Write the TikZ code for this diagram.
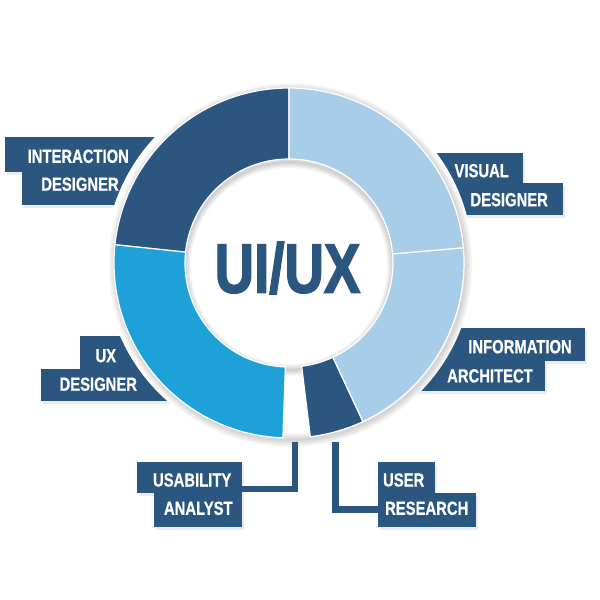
\documentclass[tikz,border=0pt]{standalone}
\usepackage{fontspec}
\usepackage{tikz}
\usetikzlibrary{shadows}
\newfontfamily\tagfont[FakeStretch=0.78, FakeBold=0.6]{Liberation Sans Bold}
\newfontfamily\titlefont[FakeStretch=0.78, FakeBold=2]{Liberation Sans Bold}
\definecolor{navy}{RGB}{42,86,128}
\definecolor{cyanseg}{RGB}{29,161,216}
\definecolor{sky}{RGB}{168,205,232}

\begin{document}
\begin{tikzpicture}[x=1pt, y=-1pt, line join=miter]
\tikzstyle{tag}=[fill=navy, inner sep=0pt, drop shadow={shadow xshift=2pt, shadow yshift=-3pt, opacity=0.15}]
\tikzstyle{tagtext}=[text=white, font=\tagfont\fontsize{19}{19}\selectfont, inner sep=0pt]
\tikzstyle{link}=[draw=navy, line width=6.5pt]
\tikzstyle{title}=[text=navy, font=\titlefont\fontsize{70}{70}\selectfont, inner sep=0pt]
\useasboundingbox (0,0) rectangle (600,600);

% side labels, partly under the ring
\node[tag, minimum width=155, minimum height=34.4, label={[tagtext, xshift=-4.2pt, yshift=-1.8pt]center:INTERACTION}] (ia1) at (82.5,154.5) {};
\node[tag, minimum width=123.3, minimum height=33.3, label={[tagtext, xshift=-3.35pt, yshift=4.15pt]center:DESIGNER}] (ia2) at (83.35,188.35) {};
\node[tag, minimum width=93.3, minimum height=30, label={[tagtext, xshift=5.05pt, yshift=-3pt]center:VISUAL}] (vd1) at (476.65,167.7) {};
\node[tag, minimum width=113.3, minimum height=32.3, label={[tagtext, xshift=2.55pt, yshift=-0.85pt]center:DESIGNER}] (vd2) at (506.65,198.85) {};
\node[tag, minimum width=62, minimum height=33.3, label={[tagtext, xshift=-5.2pt, yshift=-3.15pt]center:UX}] (ux1) at (111,352.65) {};
\node[tag, minimum width=129.3, minimum height=31.7, label={[tagtext, xshift=-7.05pt, yshift=0.95pt]center:DESIGNER}] (ux2) at (105.35,385.15) {};
\node[tag, minimum width=145, minimum height=32.4, label={[tagtext, xshift=7.5pt, yshift=-2.2pt]center:INFORMATION}] (in1) at (512.5,344.5) {};
\node[tag, minimum width=128, minimum height=30.3, label={[tagtext, xshift=9pt]center:ARCHITECT}] (in2) at (481,375.85) {};

% ring
\begin{scope}[shift={(289,263)}, y=1pt]
\fill[white] (0,0) circle (184);
\foreach \w in {2,4,...,14}
  \draw[black, opacity=0.022, line width=\w pt] (1.5,-2) circle (175);
\foreach \w in {2,4,...,12}
  \draw[black, opacity=0.03, line width=\w pt] (0,-3) circle (104);
\foreach \a/\b/\c in {90/174/navy, 174/268/cyanseg, 277/295/navy, 295/365/sky, 5/90/sky}
  \filldraw[fill=\c, draw=white, line width=1.2pt] (\a:175) arc (\a:\b:175) -- (\b:104) arc (\b:\a:104) -- cycle;
\node[title] (uiux) at (-1.5,-5) {UI/UX};
\coordinate (uaroot) at (6,-179);
\coordinate (urroot) at (46.5,-179);
\end{scope}

% bottom labels
\node[tag, minimum width=104.4, minimum height=31, label={[tagtext, xshift=2.7pt, yshift=-2.2pt]center:USABILITY}] (ua1) at (189.5,477.8) {};
\node[tag, minimum width=87.7, minimum height=34, label={[tagtext, xshift=0.45pt, yshift=2pt]center:ANALYST}] (ua2) at (197.85,510.3) {};
\node[tag, minimum width=56.7, minimum height=31, label={[tagtext, xshift=-2.95pt, yshift=-2.8pt]center:USER}] (ur1) at (406.65,477.2) {};
\node[tag, minimum width=97.4, minimum height=34, label={[tagtext, xshift=-0.3pt, yshift=1.4pt]center:RESEARCH}] (ur2) at (427,509.7) {};

\draw[link] (uaroot) |- ([yshift=4.5pt]ua1.south east);
\draw[link] (urroot) |- (ur2.west);
\end{tikzpicture}
\end{document}
